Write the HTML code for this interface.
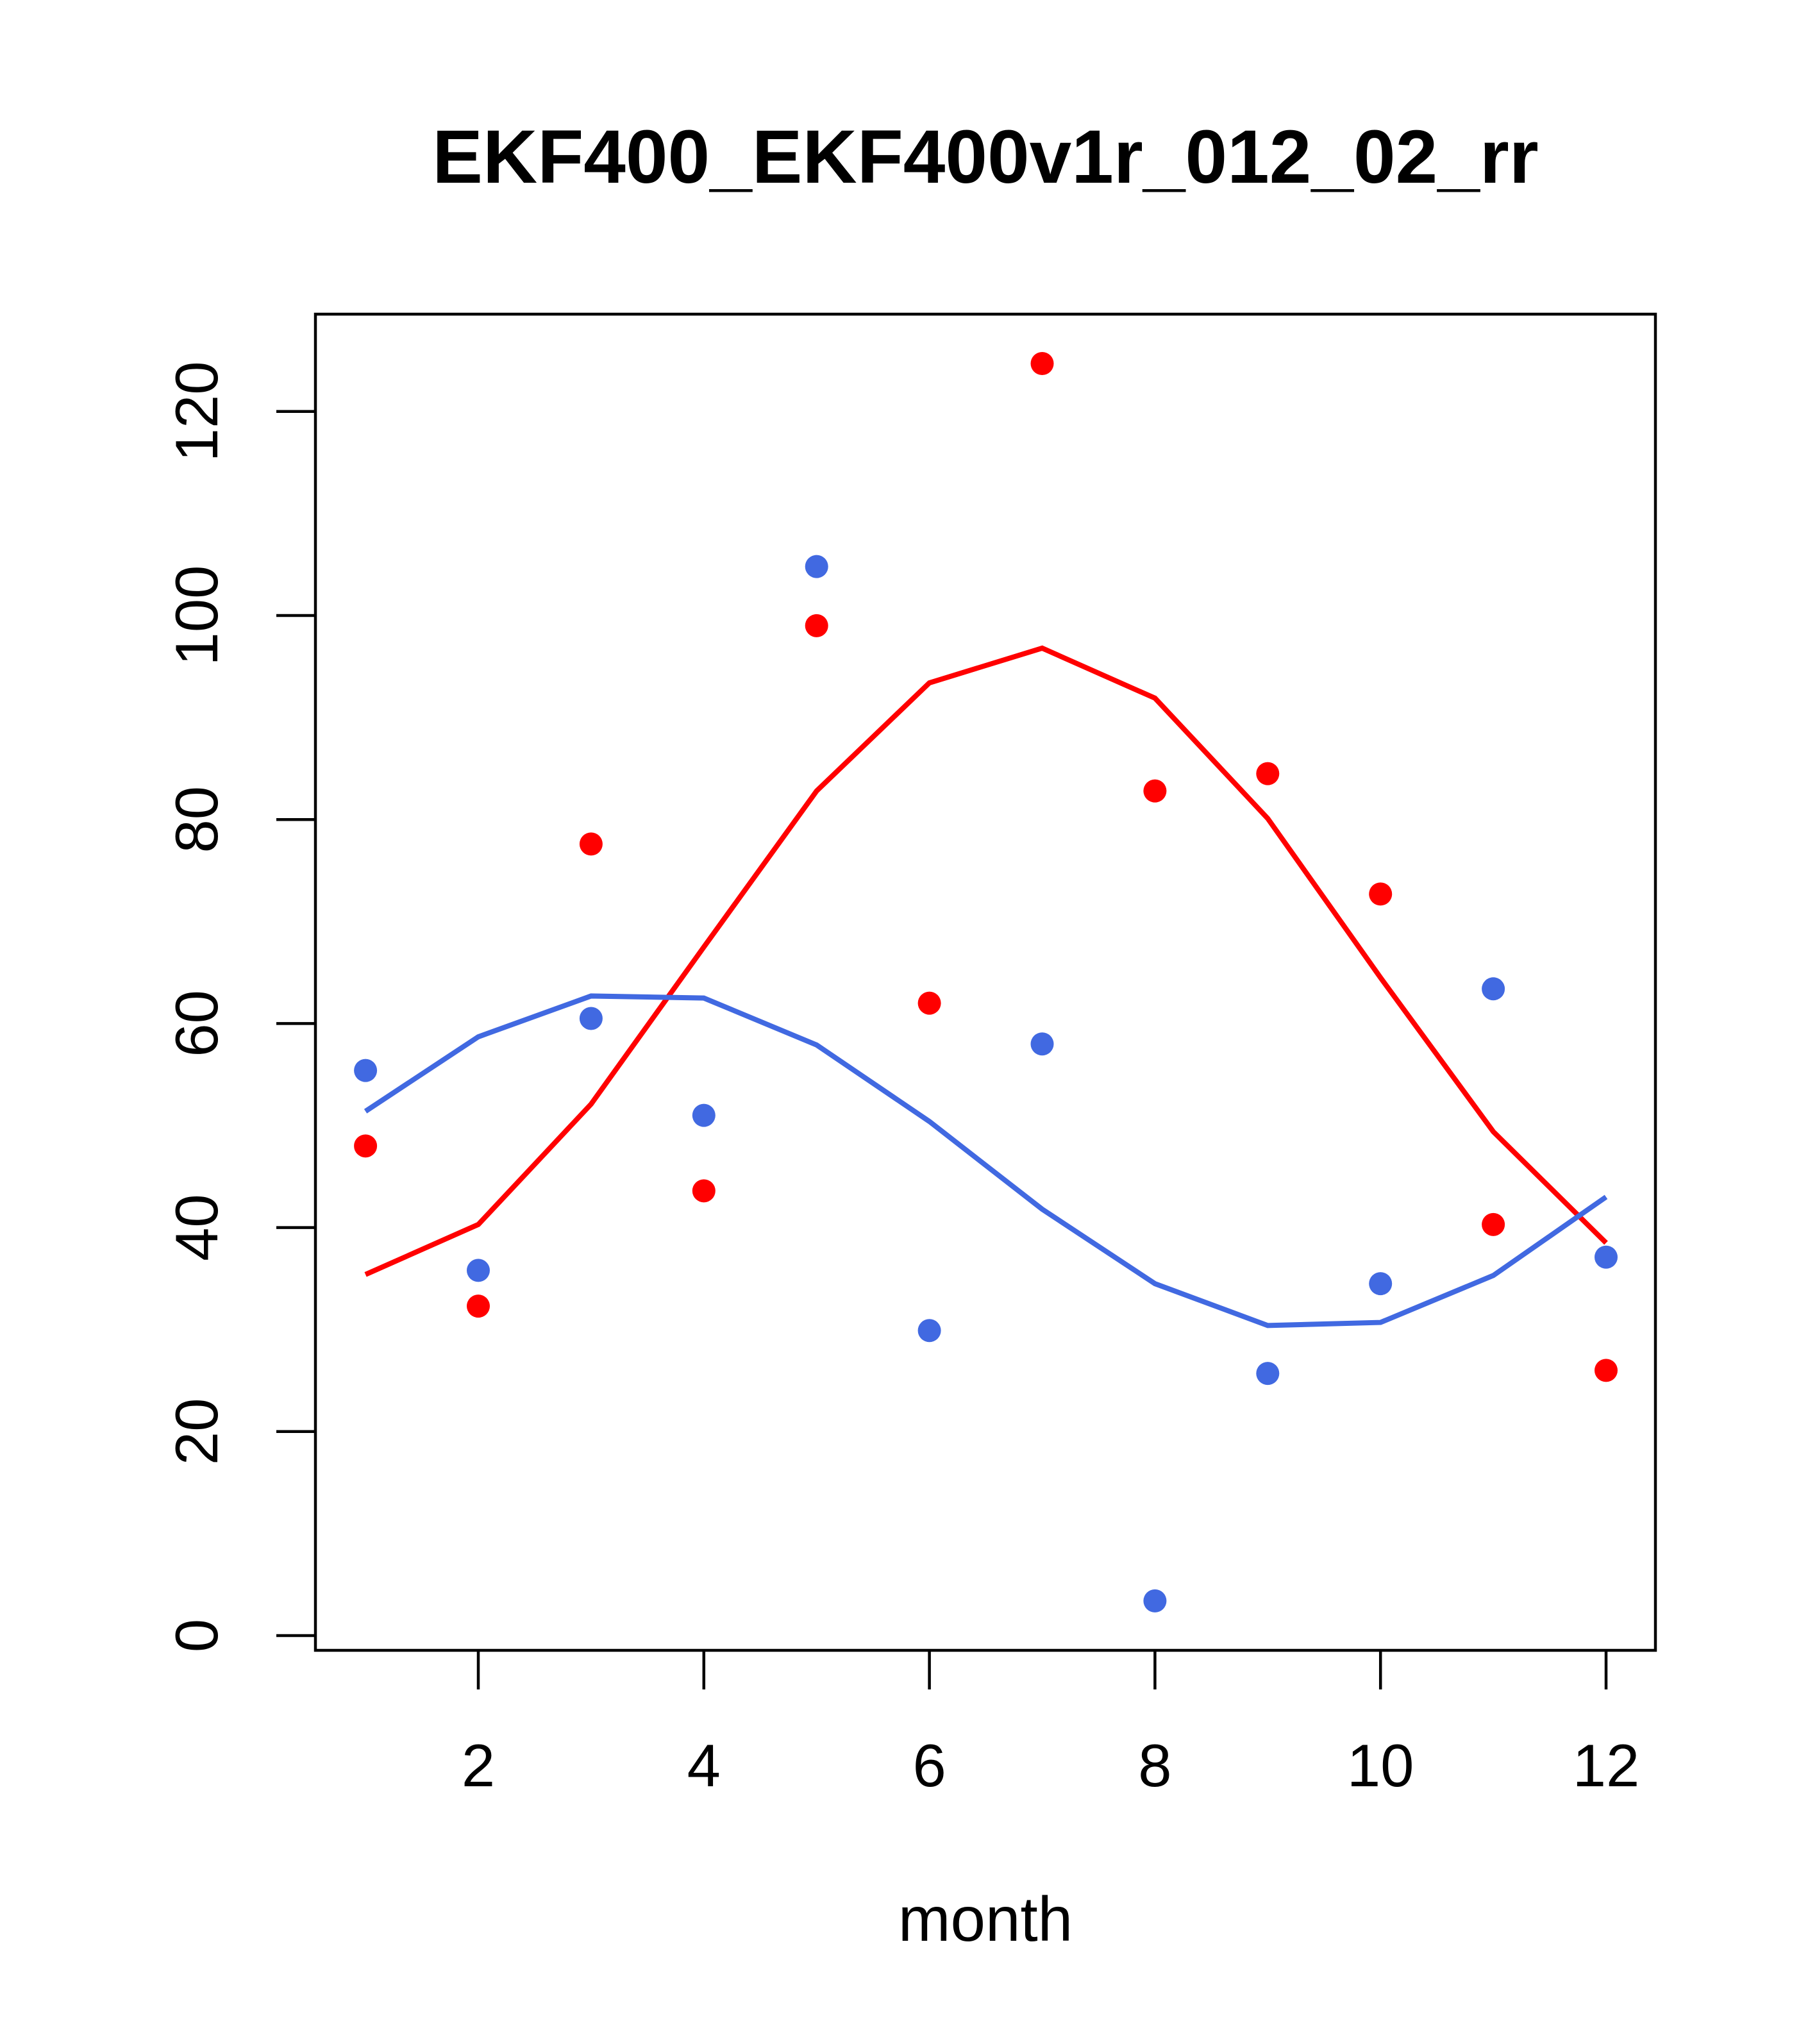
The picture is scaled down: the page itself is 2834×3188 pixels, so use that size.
<!DOCTYPE html>
<html><head><meta charset="utf-8"><style>
html,body{margin:0;padding:0;background:#fff;}
svg{display:block;font-family:"Liberation Sans",Arial,sans-serif;}
</style></head><body>
<svg id="chart" width="2834" height="3188" viewBox="0 0 2834 3188">
<rect width="2834" height="3188" fill="#fff"/>
<text x="1537" y="254" font-size="118" font-weight="bold" text-anchor="middle" dominant-baseline="middle">EKF400_EKF400v1r_012_02_rr</text>
<rect x="492" y="490" width="2090" height="2084" fill="none" stroke="#000" stroke-width="4.5"/>
<g id="xaxis"></g>
<g id="yaxis"></g>
<g id="series"></g>
<text x="1537" y="3001" font-size="98" text-anchor="middle" dominant-baseline="middle">month</text>
</svg>
<script>
const months=[1,2,3,4,5,6,7,8,9,10,11,12];
const redPoints=[48,32.3,77.6,43.6,99,62,124.7,82.8,84.5,72.7,40.3,26];
const bluePoints=[55.4,35.8,60.5,51,104.8,29.9,58,3.4,25.7,34.5,63.4,37.1];
const redLine=[35.4,40.3,52.1,67.5,82.8,93.4,96.8,91.9,80.1,64.5,49.4,38.5];
const blueLine=[51.4,58.7,62.7,62.5,57.9,50.4,41.8,34.5,30.4,30.7,35.3,43];
const xTicks=[2,4,6,8,10,12];
const yTicks=[0,20,40,60,80,100,120];
const NS="http://www.w3.org/2000/svg";
function xs(v){return 746+(v-2)*175.9;}
function ys(v){return 2551-v*15.91;}
function mk(tag,attrs,parent){const e=document.createElementNS(NS,tag);for(const k in attrs)e.setAttribute(k,attrs[k]);parent.appendChild(e);return e;}
const xa=document.getElementById('xaxis'),ya=document.getElementById('yaxis'),sg=document.getElementById('series');
xTicks.forEach(t=>{
 const l=mk('line',{x1:xs(t),x2:xs(t),y1:2574,y2:2635,stroke:'#000','stroke-width':4.5},xa);
 
 
 const tx=mk('text',{x:xs(t),y:2761,'font-size':94,'text-anchor':'middle','dominant-baseline':'middle'},xa);
 tx.textContent=t;
 
 
});
yTicks.forEach(t=>{
 const l=mk('line',{x1:431,x2:492,y1:ys(t),y2:ys(t),stroke:'#000','stroke-width':4.5},ya);
 
 
 const tx=mk('text',{x:0,y:0,'font-size':94,'text-anchor':'middle','dominant-baseline':'middle',transform:`translate(314,${ys(t)}) rotate(-90)`},ya);
 tx.textContent=t;
 
 
});
function line(vals,color,name){
 const p=mk('polyline',{points:vals.map((v,i)=>xs(months[i])+','+ys(v)).join(' '),fill:'none',stroke:color,'stroke-width':8},sg);
 
 
}
function pts(vals,color,name){
 vals.forEach((v,i)=>{
  const c=mk('circle',{cx:xs(months[i]),cy:ys(v),r:18,fill:color},sg);
  
  
 });
}
line(redLine,'#ff0000','red-line');
line(blueLine,'#4169e1','blue-line');
pts(redPoints,'#ff0000','red-point');
pts(bluePoints,'#4169e1','blue-point');
</script>
</body></html>
